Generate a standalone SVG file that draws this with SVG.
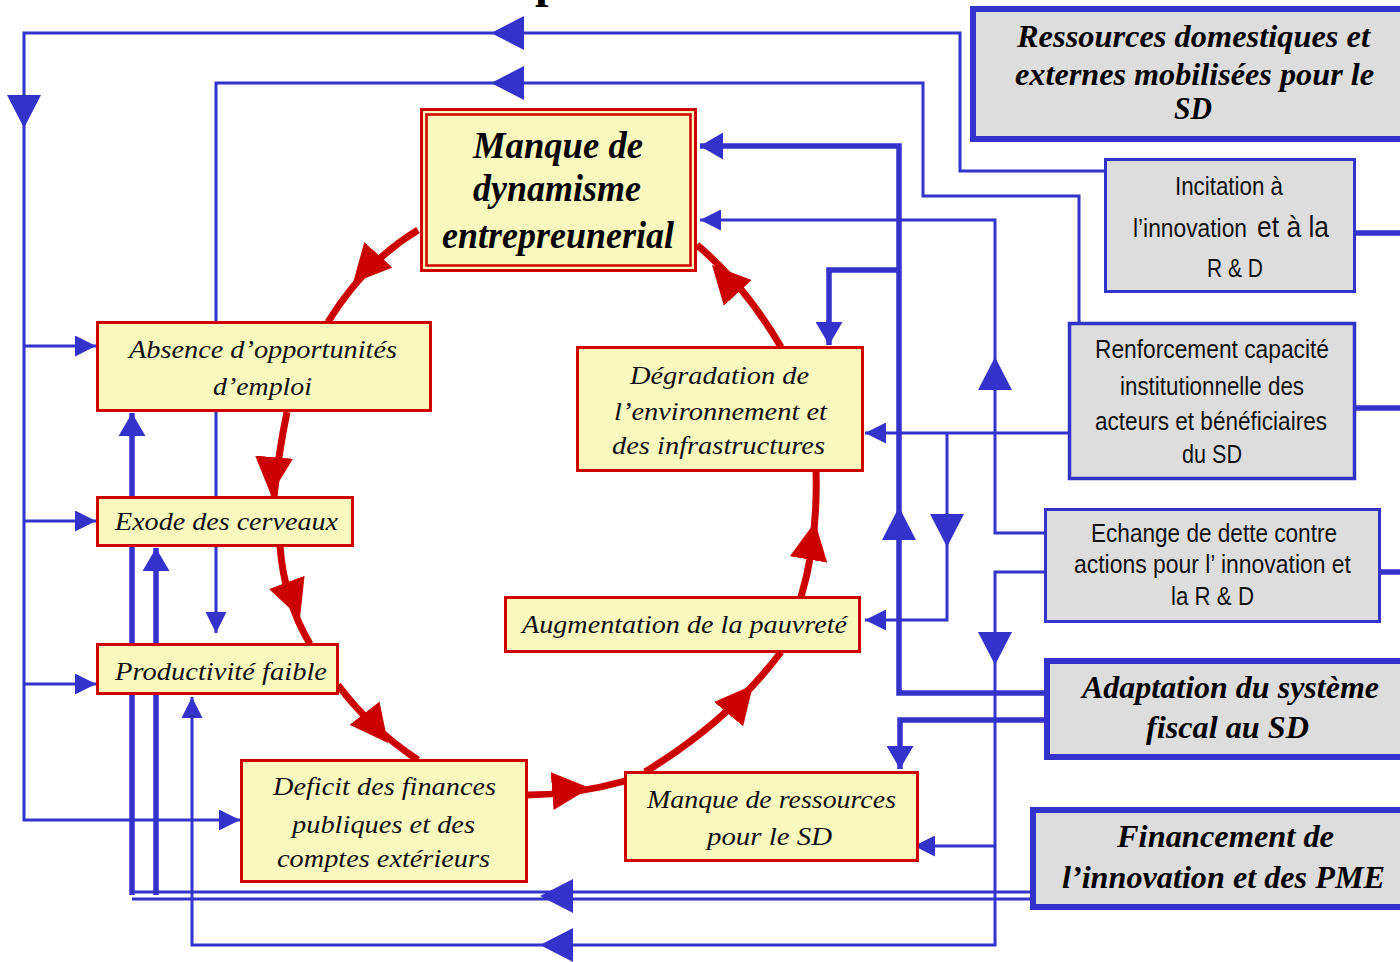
<svg xmlns="http://www.w3.org/2000/svg" width="1400" height="962" viewBox="0 0 1400 962">
<style>
.yb{fill:#F9F8BE;stroke:#D00000;stroke-width:3}
.gb{fill:#DDDDDD;stroke:#3333CC}
.t{font-family:"Liberation Serif",serif;font-style:italic;font-size:26px;fill:#111}
.tb{font-family:"Liberation Serif",serif;font-style:italic;font-weight:bold;fill:#000}
.ts{font-family:"Liberation Sans Narrow","Liberation Sans",sans-serif;fill:#111}
.c{fill:none;stroke:#3333CC;stroke-width:3}
.ck{fill:none;stroke:#3333CC;stroke-width:5.5}
.r{fill:none;stroke:#CC0000;stroke-width:7}
.m{fill:none;stroke:none}
</style>
<defs>
<marker id="ab" markerUnits="userSpaceOnUse" viewBox="0 0 33 34" markerWidth="33" markerHeight="34" refX="33" refY="17" orient="auto"><path d="M0,0L33,17L0,34z" fill="#3333CC"/></marker>
<marker id="am" markerUnits="userSpaceOnUse" viewBox="0 0 23 27" markerWidth="23" markerHeight="27" refX="23" refY="13.5" orient="auto"><path d="M0,0L23,13.5L0,27z" fill="#3333CC"/></marker>
<marker id="as" markerUnits="userSpaceOnUse" viewBox="0 0 21 21" markerWidth="21" markerHeight="21" refX="21" refY="10.5" orient="auto"><path d="M0,0L21,10.5L0,21z" fill="#3333CC"/></marker>
<marker id="ar" markerUnits="userSpaceOnUse" viewBox="0 0 38 38" markerWidth="38" markerHeight="38" refX="38" refY="19" orient="auto"><path d="M0,0L38,19L0,38z" fill="#CC0000"/></marker>
</defs>
<rect width="1400" height="962" fill="#FFFFFF"/>
<text x="535" y="-3" font-family="Liberation Serif,serif" font-weight="bold" font-size="48" fill="#000">p</text>

<g id="connectors">
 <g id="blue">
  <path class="c" d="M1104,171H960V33H24V820H240" marker-end="url(#as)"/>
  <path class="c" d="M24,346H96" marker-end="url(#as)"/>
  <path class="c" d="M24,521H96" marker-end="url(#as)"/>
  <path class="c" d="M24,684H96" marker-end="url(#as)"/>
  <path class="m" d="M530,33H491" marker-end="url(#ab)"/>
  <path class="m" d="M24,100V128" marker-end="url(#ab)"/>

  <path class="c" d="M1079,322V196H923V83H216V633" marker-end="url(#as)"/>
  <path class="m" d="M530,83H491" marker-end="url(#ab)"/>

  <path class="c" d="M1044,533H995V220H700" marker-end="url(#as)"/>
  <path class="m" d="M995,380V357" marker-end="url(#ab)"/>

  <path class="c" d="M1044,572H995V945H192V697" marker-end="url(#as)"/>
  <path class="c" d="M995,846H914" marker-end="url(#as)"/>
  <path class="m" d="M995,640V665" marker-end="url(#ab)"/>
  <path class="m" d="M560,945H540" marker-end="url(#ab)"/>

  <path class="c" d="M1068,433H865" marker-end="url(#as)"/>
  <path class="c" d="M947,433V620H865" marker-end="url(#as)"/>
  <path class="m" d="M947,520V547" marker-end="url(#ab)"/>

  <path class="c" d="M1030,892H132"/>
  <path class="c" d="M1030,899H132"/>
  <path class="ck" d="M132,895V413" marker-end="url(#am)"/>
  <path class="ck" d="M156,895V548" marker-end="url(#am)"/>
  <path class="m" d="M560,896H540" marker-end="url(#ab)"/>

  <path class="ck" d="M1044,693H899V146H700" marker-end="url(#am)"/>
  <path class="ck" d="M899,270H829V345" marker-end="url(#am)"/>
  <path class="m" d="M899,530V507" marker-end="url(#ab)"/>
  <path class="ck" d="M1044,720H900V769" marker-end="url(#am)"/>

  <path class="ck" d="M1356,233H1400"/>
  <path class="ck" d="M1356,408H1400"/>
  <path class="ck" d="M1368,572H1400"/>
 </g>
 <g id="red">
  <path class="r" d="M418,230Q365,262 328,322"/>
  <path class="m" d="M380,253L353,283" marker-end="url(#ar)"/>
  <path class="r" d="M287,412Q279,450 274,497"/>
  <path class="m" d="M274,458L271,495" marker-end="url(#ar)"/>
  <path class="r" d="M280,546Q284,600 310,644"/>
  <path class="m" d="M287,583L300,618" marker-end="url(#ar)"/>
  <path class="r" d="M338,685Q370,728 418,760"/>
  <path class="m" d="M366,715L388,743" marker-end="url(#ar)"/>
  <path class="r" d="M527,795Q575,795 625,781"/>
  <path class="m" d="M552,791L590,788" marker-end="url(#ar)"/>
  <path class="r" d="M645,772Q730,720 781,652"/>
  <path class="m" d="M727,716L753,685" marker-end="url(#ar)"/>
  <path class="r" d="M801,597Q818,540 816,471"/>
  <path class="m" d="M809,557L815,522" marker-end="url(#ar)"/>
  <path class="r" d="M781,347Q745,285 697,245"/>
  <path class="m" d="M737,292L712,265" marker-end="url(#ar)"/>
 </g>
</g>

<g id="main">
 <rect class="yb" x="421.5" y="109.5" width="274" height="161"/>
 <rect x="426.5" y="114.5" width="264" height="151" fill="none" stroke="#D00000" stroke-width="2.5"/>
 <text class="tb" font-size="37" x="473" y="158" textLength="170" lengthAdjust="spacingAndGlyphs">Manque de</text>
 <text class="tb" font-size="37" x="473" y="201" textLength="168" lengthAdjust="spacingAndGlyphs">dynamisme</text>
 <text class="tb" font-size="37" x="442" y="248" textLength="232" lengthAdjust="spacingAndGlyphs">entrepreunerial</text>
</g>
<g id="absence">
 <rect class="yb" x="97.5" y="322.5" width="333" height="88"/>
 <text class="t" x="129" y="358" textLength="268" lengthAdjust="spacingAndGlyphs">Absence d’opportunités</text>
 <text class="t" x="213" y="395" textLength="99" lengthAdjust="spacingAndGlyphs">d’emploi</text>
</g>
<g id="exode">
 <rect class="yb" x="97.5" y="497.5" width="255" height="48"/>
 <text class="t" x="115" y="530" textLength="223" lengthAdjust="spacingAndGlyphs">Exode des cerveaux</text>
</g>
<g id="productivite">
 <rect class="yb" x="97.5" y="644.5" width="240" height="49"/>
 <text class="t" x="115" y="680" textLength="212" lengthAdjust="spacingAndGlyphs">Productivité faible</text>
</g>
<g id="deficit">
 <rect class="yb" x="241.5" y="760.5" width="285" height="121"/>
 <text class="t" x="273" y="795" textLength="223" lengthAdjust="spacingAndGlyphs">Deficit des finances</text>
 <text class="t" x="292" y="833" textLength="183" lengthAdjust="spacingAndGlyphs">publiques et des</text>
 <text class="t" x="277" y="867" textLength="213" lengthAdjust="spacingAndGlyphs">comptes extérieurs</text>
</g>
<g id="manque-ressources">
 <rect class="yb" x="625.5" y="772.5" width="292" height="88"/>
 <text class="t" x="647" y="808" textLength="249" lengthAdjust="spacingAndGlyphs">Manque de ressources</text>
 <text class="t" x="707" y="845" textLength="125" lengthAdjust="spacingAndGlyphs">pour le SD</text>
</g>
<g id="augmentation">
 <rect class="yb" x="505.5" y="597.5" width="354" height="54"/>
 <text class="t" x="522" y="633" textLength="325" lengthAdjust="spacingAndGlyphs">Augmentation de la pauvreté</text>
</g>
<g id="degradation">
 <rect class="yb" x="577.5" y="347.5" width="285" height="123"/>
 <text class="t" x="630" y="384" textLength="179" lengthAdjust="spacingAndGlyphs">Dégradation de</text>
 <text class="t" x="614" y="420" textLength="213" lengthAdjust="spacingAndGlyphs">l’environnement et</text>
 <text class="t" x="612" y="454" textLength="213" lengthAdjust="spacingAndGlyphs">des infrastructures</text>
</g>

<g id="ressources">
 <rect class="gb" stroke-width="6" x="973" y="9" width="450" height="130"/>
 <text class="tb" font-size="31" x="1017" y="47" textLength="353" lengthAdjust="spacingAndGlyphs">Ressources domestiques et</text>
 <text class="tb" font-size="31" x="1015" y="85" textLength="359" lengthAdjust="spacingAndGlyphs">externes mobilisées pour le</text>
 <text class="tb" font-size="31" x="1174" y="119" textLength="38" lengthAdjust="spacingAndGlyphs">SD</text>
</g>
<g id="incitation">
 <rect class="gb" stroke-width="3" x="1105.5" y="159.5" width="249" height="132"/>
 <text class="ts" font-size="25" x="1175" y="195" textLength="108" lengthAdjust="spacingAndGlyphs">Incitation à</text>
 <text class="ts" font-size="25" x="1133" y="237" textLength="114" lengthAdjust="spacingAndGlyphs">l’innovation</text>
 <text class="ts" font-size="30" x="1257" y="237" textLength="72" lengthAdjust="spacingAndGlyphs">et à la</text>
 <text class="ts" font-size="25" x="1207" y="277" textLength="56" lengthAdjust="spacingAndGlyphs">R &amp; D</text>
</g>
<g id="renforcement">
 <rect class="gb" stroke-width="3.5" x="1069.5" y="323.5" width="285" height="155"/>
 <text class="ts" font-size="26" x="1095" y="358" textLength="234" lengthAdjust="spacingAndGlyphs">Renforcement capacité</text>
 <text class="ts" font-size="26" x="1120" y="395" textLength="184" lengthAdjust="spacingAndGlyphs">institutionnelle des</text>
 <text class="ts" font-size="26" x="1095" y="430" textLength="232" lengthAdjust="spacingAndGlyphs">acteurs et bénéficiaires</text>
 <text class="ts" font-size="26" x="1182" y="463" textLength="60" lengthAdjust="spacingAndGlyphs">du SD</text>
</g>
<g id="echange">
 <rect class="gb" stroke-width="3" x="1045.5" y="509.5" width="334" height="112"/>
 <text class="ts" font-size="25" x="1091" y="542" textLength="246" lengthAdjust="spacingAndGlyphs">Echange de dette contre</text>
 <text class="ts" font-size="25" x="1074" y="573" textLength="277" lengthAdjust="spacingAndGlyphs">actions pour l’ innovation et</text>
 <text class="ts" font-size="25" x="1171" y="605" textLength="83" lengthAdjust="spacingAndGlyphs">la R &amp; D</text>
</g>
<g id="adaptation">
 <rect class="gb" stroke-width="6" x="1047" y="661" width="400" height="96"/>
 <text class="tb" font-size="32" x="1082" y="698" textLength="297" lengthAdjust="spacingAndGlyphs">Adaptation du système</text>
 <text class="tb" font-size="32" x="1146" y="738" textLength="163" lengthAdjust="spacingAndGlyphs">fiscal au SD</text>
</g>
<g id="financement">
 <rect class="gb" stroke-width="6" x="1033" y="810" width="400" height="97"/>
 <text class="tb" font-size="32" x="1117" y="847" textLength="217" lengthAdjust="spacingAndGlyphs">Financement de</text>
 <text class="tb" font-size="32" x="1062" y="888" textLength="323" lengthAdjust="spacingAndGlyphs">l’innovation et des PME</text>
</g>
</svg>
